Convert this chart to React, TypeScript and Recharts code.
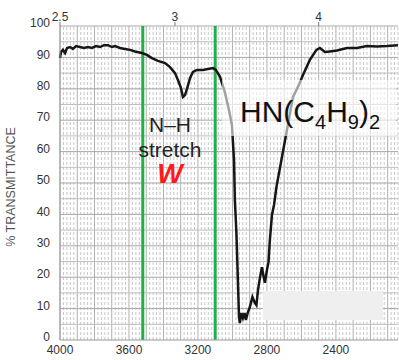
import { LineChart, Line, XAxis, YAxis, ReferenceLine } from 'recharts'

// ---------------------------------------------------------------------------
// Spectrum data (wavenumber cm-1, % transmittance)
// ---------------------------------------------------------------------------

const WAVENUMBERS = [
  4000, 3994, 3983, 3971, 3959, 3942, 3925, 3907, 3884, 3861, 3838, 3814, 3791, 3768, 3745, 3722,
  3699, 3681, 3652, 3623, 3594, 3565, 3525, 3496, 3467, 3432, 3391, 3362, 3333, 3316, 3299, 3287,
  3275, 3264, 3246, 3229, 3206, 3171, 3142, 3113, 3096, 3072, 3043, 3020, 3003, 2991, 2986, 2977,
  2968, 2962, 2957, 2948, 2939, 2930, 2922, 2910, 2899, 2884, 2870, 2861, 2852, 2841, 2829, 2820,
  2812, 2800, 2791, 2783, 2771, 2759, 2745, 2716, 2684, 2649, 2620, 2591, 2551, 2513, 2493, 2464,
  2435, 2394, 2336, 2278, 2220, 2162, 2104, 2040,
]
const TRANSMITTANCE = [
  89.8, 91.7, 92.4, 91.4, 93.0, 93.3, 92.7, 93.6, 93.3, 93.0, 93.3, 93.0, 93.6, 93.3, 93.9, 93.9,
  93.3, 93.6, 93.0, 92.7, 92.4, 91.9, 91.4, 90.8, 89.8, 88.9, 88.2, 86.9, 85.0, 82.8, 80.3, 77.4,
  78.0, 79.9, 83.4, 85.4, 86.0, 86.0, 86.3, 86.6, 86.0, 83.8, 78.7, 73.2, 68.5, 57.3, 44.6, 34.1,
  18.2, 7.3, 5.4, 8.6, 7.0, 8.6, 6.4, 8.9, 10.5, 13.7, 11.8, 11.1, 15.9, 19.7, 23.2, 20.4,
  18.2, 22.3, 24.8, 31.8, 39.8, 43.0, 48.7, 57.3, 66.9, 77.4, 80.6, 84.4, 89.2, 92.4, 93.0, 91.7,
  91.9, 92.2, 93.0, 93.0, 93.6, 93.5, 93.6, 93.9,
]

const X_TICKS = [4000, 3600, 3200, 2800, 2400]
const MICRON_TICKS = [2.5, 3, 4] // top axis, in micrometres
const Y_TICKS = [0, 10, 20, 30, 40, 50, 60, 70, 80, 90, 100]
const MARKED_BANDS = [3520, 3100] // green guide lines
const X_DOMAIN: [number, number] = [2040, 4000]

// chart-paper grid: solid every 100 cm-1, dashed every 20 cm-1, rows every 5 %
const MAJOR_GRID: number[] = []
const MINOR_GRID: number[] = []
for (let v = 4000; v >= 2040; v -= 20) {
  if (v % 100 === 0) MAJOR_GRID.push(v)
  else MINOR_GRID.push(v)
}
const ROW_GRID: number[] = []
for (let v = 5; v <= 100; v += 5) ROW_GRID.push(v)

const data = WAVENUMBERS.map((wn, i) => ({ wn, t: TRANSMITTANCE[i] }))

const FONT = '"Liberation Sans", Arial, sans-serif'
const tickStyle = { fontSize: 12, fill: '#333', fontFamily: FONT }

export default function App() {
  return (
    <div style={{ position: 'absolute', left: 0, top: 0, width: 399, height: 360, fontFamily: FONT }}>
      <LineChart width={399} height={360} data={data} margin={{ top: 0, right: 1, bottom: 0, left: 0 }}>
        <XAxis
          xAxisId="um"
          orientation="top"
          dataKey="wn"
          type="number"
          domain={X_DOMAIN}
          reversed
          ticks={MICRON_TICKS.map((u) => 10000 / u)}
          tickFormatter={(v: number) => String(Math.round((10000 / v) * 10) / 10)}
          axisLine={false}
          tickLine={{ stroke: '#777' }}
          tickSize={4}
          tickMargin={1}
          height={26}
          tick={tickStyle}
        />
        <XAxis
          dataKey="wn"
          type="number"
          domain={X_DOMAIN}
          reversed
          ticks={X_TICKS}
          axisLine={{ stroke: '#999' }}
          tickLine={false}
          tickSize={0}
          tickMargin={5}
          height={20}
          tick={tickStyle}
        />
        <YAxis
          type="number"
          domain={[0, 100]}
          ticks={Y_TICKS}
          axisLine={{ stroke: '#999' }}
          tickLine={false}
          tickSize={0}
          tickMargin={10}
          width={60}
          tick={{ ...tickStyle, dy: -3 }}
        />

        {MINOR_GRID.map((v) => (
          <ReferenceLine key={'m' + v} x={v} stroke="#c8c8c8" strokeDasharray="3 2" />
        ))}
        {MAJOR_GRID.map((v) => (
          <ReferenceLine key={'M' + v} x={v} stroke="#b0b0b0" />
        ))}
        {ROW_GRID.map((v) => (
          <ReferenceLine key={'r' + v} y={v} stroke={v % 10 === 0 ? '#a8a8a8' : '#c0c0c0'} />
        ))}

        {MARKED_BANDS.map((b) => (
          <ReferenceLine key={b} x={b} stroke="#1fb04a" strokeWidth={3} />
        ))}

        <Line
          dataKey="t"
          type="linear"
          stroke="#161616"
          strokeWidth={2.5}
          dot={false}
          isAnimationActive={false}
        />
      </LineChart>

      {/* blank label patch */}
      <div style={{ position: 'absolute', left: 263, top: 291, width: 120, height: 29, background: '#efefef' }} />

      {/* translucent backing behind the formula */}
      <div
        style={{
          position: 'absolute',
          left: 222,
          top: 80,
          width: 174,
          height: 56,
          background: 'rgba(255,255,255,0.6)',
        }}
      />

      <div
        style={{
          position: 'absolute',
          left: 11,
          top: 187,
          transform: 'translate(-50%, -50%) rotate(-90deg)',
          fontSize: 12.5,
          color: '#555',
          whiteSpace: 'nowrap',
          lineHeight: 1,
        }}
      >
        % TRANSMITTANCE
      </div>

      <div
        style={{
          position: 'absolute',
          left: 130,
          top: 112,
          width: 80,
          textAlign: 'center',
          fontSize: 21,
          lineHeight: '25px',
          color: '#222',
        }}
      >
        N–H
        <br />
        stretch
      </div>
      <div
        style={{
          position: 'absolute',
          left: 150,
          top: 161,
          width: 40,
          textAlign: 'center',
          fontSize: 27,
          fontWeight: 'bold',
          fontStyle: 'italic',
          color: '#ff1a1a',
          lineHeight: 1,
        }}
      >
        W
      </div>
      <div style={{ position: 'absolute', left: 240, top: 97, fontSize: 30, lineHeight: 1, color: '#111', whiteSpace: 'nowrap' }}>
        HN(C<sub style={{ fontSize: 20 }}>4</sub>H<sub style={{ fontSize: 20 }}>9</sub>)<sub style={{ fontSize: 20 }}>2</sub>
      </div>
    </div>
  )
}
